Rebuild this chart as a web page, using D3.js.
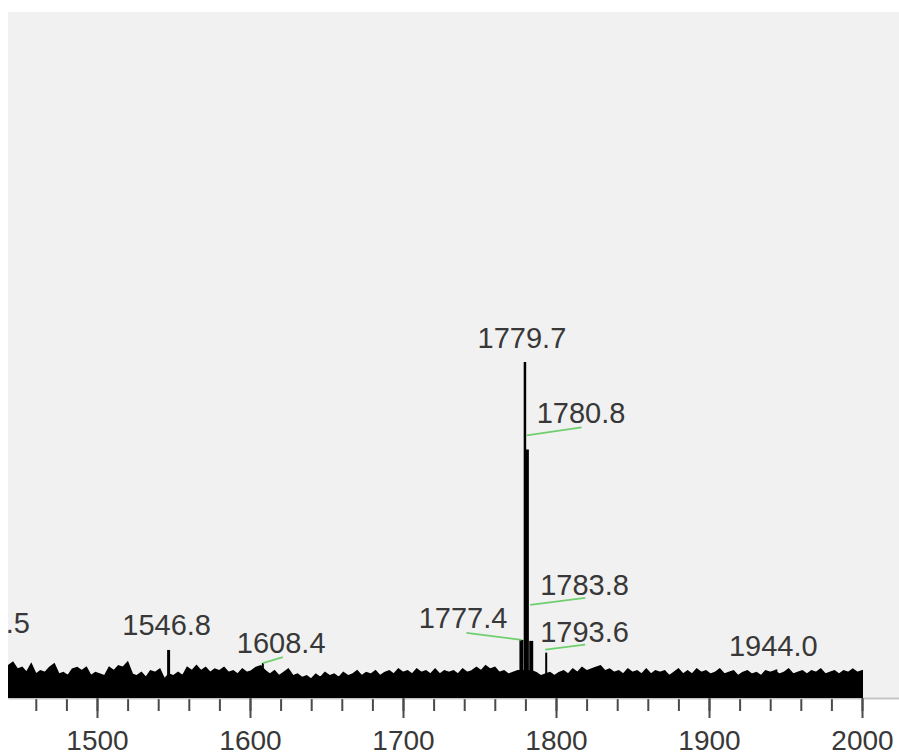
<!DOCTYPE html>
<html>
<head>
<meta charset="utf-8">
<script src="https://cdn.jsdelivr.net/npm/d3@7"></script>
<style>
  body { margin: 0; background: #fff; }
  svg { display: block; }
  text { font-family: "Liberation Sans", Arial, sans-serif; fill: #383838; }
</style>
</head>
<body>
<svg width="899" height="755"></svg>
<script>
// noise floor of the spectrum, sampled every 3 m/z from 1442 (relative intensity %)
var noiseStart = 1442, noiseStep = 3;
var noiseInt = [
  9.5,10.5,8.5,9.0,7.5,10.0,7.0,8.0,7.5,9.0,
  10.0,7.0,7.5,6.5,8.5,9.0,8.0,9.0,6.5,7.5,
  7.0,6.5,9.0,8.0,9.5,9.0,10.5,7.0,6.5,7.5,
  6.0,8.0,7.5,8.5,5.5,7.0,6.5,7.5,6.5,9.0,
  8.0,9.5,8.0,9.0,7.5,8.5,8.0,9.0,7.5,
  8.0,7.0,8.5,7.5,8.0,9.0,9.5,8.0,7.0,8.0,
  6.5,7.5,8.5,6.5,7.0,6.0,6.5,5.5,7.0,6.0,
  7.5,6.5,7.0,6.0,7.5,6.5,7.0,8.0,6.5,7.5,
  7.0,8.0,6.5,7.5,8.0,7.0,8.5,7.5,8.0,7.0,
  8.5,7.5,8.0,7.0,8.5,7.0,8.0,7.5,
  8.0,7.0,8.5,7.5,8.0,9.0,8.0,9.5,8.5,9.0,
  7.5,8.0,7.0,7.5,8.0,8.0,8.0,8.0,7.5,6.5,
  7.0,7.5,6.5,7.5,8.0,7.0,8.5,7.5,9.0,8.0,
  8.5,9.0,9.5,8.0,8.5,7.5,8.0,7.0,8.5,7.5,
  8.0,7.0,8.5,7.0,8.0,7.5,
  8.0,6.5,7.5,8.5,7.0,8.0,7.0,8.5,7.5,8.0,
  7.0,7.5,8.5,7.0,7.5,8.0,6.5,7.5,8.0,7.0,
  7.5,6.5,8.0,7.5,8.0,7.0,7.5,8.5,7.0,7.5,
  8.0,7.0,8.0,7.5,8.5,7.0,7.5,8.0,7.0,8.0,
  7.5,8.5,7.5,8.0
];

// labelled peaks
var peakMz    = [1426.5, 1546.8, 1608.4, 1777.4, 1779.7, 1780.8, 1783.8, 1793.6, 1944.0];
var peakInt   = [15.0,   14.3,   10.4,   17.3,   100.0,  74.0,   17.0,   13.5,   8.5];
var peakLabel = ["1426.5","1546.8","1608.4","1777.4","1779.7","1780.8","1783.8","1793.6","1944.0"];

var majorTicks = [1500, 1600, 1700, 1800, 1900, 2000];
var minorTicks = d3.range(1460, 2001, 20);

// label placement relative to the peak top
var labelLayout = {
  "1426.5": {tx: 1,   ty: -15, anchor: "middle"},
  "1546.8": {tx: -2,  ty: -15, anchor: "middle"},
  "1779.7": {tx: -3,  ty: -14, anchor: "middle"},
  "1944.0": {tx: -3,  ty: -13, anchor: "middle"},
  "1780.8": {tx: 10,  ty: -26, anchor: "start", lead: [0, -14, 55, -22]},
  "1783.8": {tx: 9,   ty: -46, anchor: "start", lead: [-1, -36, 54, -43]},
  "1793.6": {tx: -6,  ty: -11, anchor: "start", lead: [-1, -3, 39, -8]},
  "1777.4": {tx: -14, ty: -12, anchor: "end",   lead: [0, 0, -55, -7]},
  "1608.4": {tx: -26, ty: -10, anchor: "start", lead: [0, 0, 20, -6]}
};
var peakWidth = {"1546.8": 3, "1777.4": 4, "1779.7": 2.5, "1780.8": 4.5, "1783.8": 4};

var svg = d3.select("svg"),
    width = +svg.attr("width"),
    height = +svg.attr("height");
var plot = {left: 8, top: 12, right: width, bottom: 698};

var x = d3.scaleLinear().domain([1441.83, 2024.18]).range([plot.left, plot.right]);
var y = d3.scaleLinear().domain([0, 204.2]).range([plot.bottom, plot.top]);

svg.append("defs").append("clipPath").attr("id", "clip")
  .append("rect")
  .attr("x", plot.left).attr("y", plot.top)
  .attr("width", plot.right - plot.left).attr("height", plot.bottom - plot.top);

svg.append("rect")
  .attr("x", plot.left).attr("y", plot.top)
  .attr("width", plot.right - plot.left).attr("height", plot.bottom - plot.top)
  .attr("fill", "#f1f1f1");

// axis: minor ticks then major ticks with labels
var minorAxis = svg.append("g")
  .attr("transform", "translate(0," + plot.bottom + ")")
  .call(d3.axisBottom(x).tickValues(minorTicks).tickSize(13).tickSizeOuter(0).tickFormat(""));
var majorAxis = svg.append("g")
  .attr("transform", "translate(0," + plot.bottom + ")")
  .call(d3.axisBottom(x).tickValues(majorTicks).tickSize(20).tickSizeOuter(0).tickPadding(12).tickFormat(d3.format("d")));

svg.selectAll(".domain").attr("stroke", "#c4c4c4").attr("stroke-width", 1.5);
svg.selectAll(".tick line").attr("stroke", "#4a4a4a").attr("stroke-width", 2);
majorAxis.selectAll("text")
  .attr("font-size", 28)
  .attr("font-family", "Liberation Sans, Arial, sans-serif")
  .attr("fill", "#3a3a3a");

var marks = svg.append("g").attr("clip-path", "url(#clip)");

var noise = noiseInt.map(function(v, i) { return {mz: noiseStart + i * noiseStep, v: v}; });
var area = d3.area()
  .x(function(d) { return x(d.mz); })
  .y0(y(0))
  .y1(function(d) { return y(d.v); });

marks.append("path")
  .datum(noise)
  .attr("d", area)
  .attr("fill", "#000")
  .attr("stroke", "#000")
  .attr("stroke-width", 2)
  .attr("stroke-linejoin", "miter");

var peaks = peakMz.map(function(m, i) {
  return {mz: m, v: peakInt[i], label: peakLabel[i]};
});

marks.selectAll(".peak")
  .data(peaks)
  .enter().append("line")
  .attr("class", "peak")
  .attr("x1", function(d) { return x(d.mz); })
  .attr("x2", function(d) { return x(d.mz); })
  .attr("y1", y(0))
  .attr("y2", function(d) { return y(d.v); })
  .attr("stroke", "#000")
  .attr("stroke-width", function(d) { return peakWidth[d.label] || 2; });

// green leader lines
marks.selectAll(".lead")
  .data(peaks.filter(function(d) { return labelLayout[d.label].lead; }))
  .enter().append("line")
  .attr("class", "lead")
  .attr("x1", function(d) { return x(d.mz) + labelLayout[d.label].lead[0]; })
  .attr("y1", function(d) { return y(d.v) + labelLayout[d.label].lead[1]; })
  .attr("x2", function(d) { return x(d.mz) + labelLayout[d.label].lead[2]; })
  .attr("y2", function(d) { return y(d.v) + labelLayout[d.label].lead[3]; })
  .attr("stroke", "#6fcf6f")
  .attr("stroke-width", 1.8);

// labels are clipped to the plot area like the original
marks.selectAll(".plabel")
  .data(peaks)
  .enter().append("text")
  .attr("class", "plabel")
  .attr("x", function(d) { return x(d.mz) + labelLayout[d.label].tx; })
  .attr("y", function(d) { return y(d.v) + labelLayout[d.label].ty; })
  .attr("text-anchor", function(d) { return labelLayout[d.label].anchor; })
  .attr("font-size", 29)
  .text(function(d) { return d.label; });
</script>
</body>
</html>
